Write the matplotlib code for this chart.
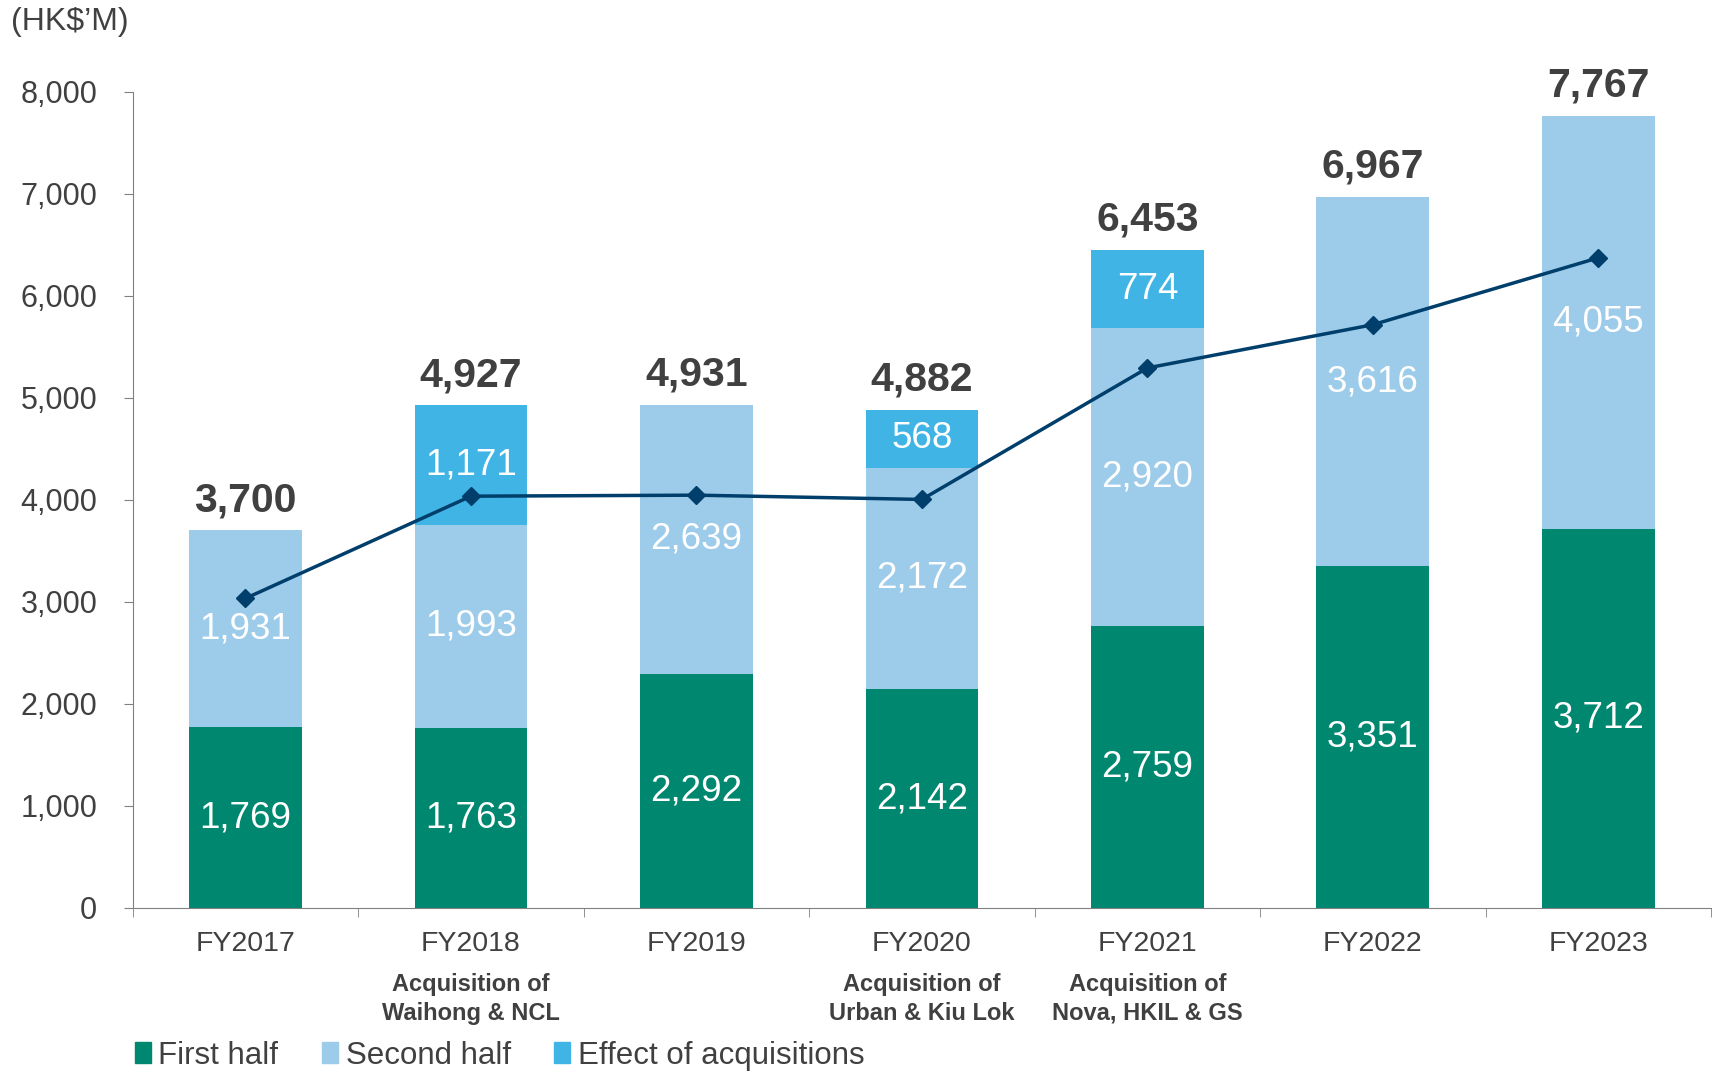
import numpy as np
import matplotlib.pyplot as plt
from matplotlib.patches import Patch

plt.rcParams['font.family'] = ['Liberation Sans', 'DejaVu Sans']

# DATOS
anios = ["FY2017", "FY2018", "FY2019", "FY2020", "FY2021", "FY2022", "FY2023"]
primera = [1769, 1763, 2292, 2142, 2759, 3351, 3712]
segunda = [1931, 1993, 2639, 2172, 2920, 3616, 4055]
adquis = [0, 1171, 0, 568, 774, 0, 0]
totales = [3700, 4927, 4931, 4882, 6453, 6967, 7767]
linea = [3033, 4035, 4045, 4003, 5292, 5716, 6372]
notas = ["", "Acquisition of\nWaihong & NCL", "", "Acquisition of\nUrban & Kiu Lok",
         "Acquisition of\nNova, HKIL & GS", "", ""]

c_primera = "#00876F"
c_segunda = "#9DCBEA"
c_adquis = "#41B4E6"
c_linea = "#003F6B"
gris = "#404040"

x = np.arange(len(anios))
ancho = 0.5

fig = plt.figure(figsize=(17.19, 10.73), dpi=100)
ax = fig.add_axes([0.0772, 0.1540, 0.9182, 0.7605])

b1 = ax.bar(x, primera, ancho, color=c_primera)
b2 = ax.bar(x, segunda, ancho, bottom=primera, color=c_segunda)
base3 = np.array(primera) + np.array(segunda)
b3 = ax.bar(x, adquis, ancho, bottom=base3, color=c_adquis)

ax.plot(x, linea, color=c_linea, lw=2.5, marker='D', markersize=9, zorder=5)

# etiquetas dentro de las barras
for i in range(len(x)):
    ax.text(x[i], primera[i] / 2, f"{primera[i]:,}", ha='center', va='center',
            color='white', fontsize=26.5)
    ax.text(x[i], primera[i] + segunda[i] / 2, f"{segunda[i]:,}", ha='center', va='center',
            color='white', fontsize=26.5)
    if adquis[i] > 0:
        ax.text(x[i], base3[i] + adquis[i] / 2, f"{adquis[i]:,}", ha='center', va='center',
                color='white', fontsize=26.5)
    ax.annotate(f"{totales[i]:,}", (x[i], totales[i]), xytext=(0, 8), textcoords='offset points',
                ha='center', va='bottom', fontsize=29.5, fontweight='bold', color=gris)
    if notas[i]:
        ax.text(x[i], -0.112, notas[i], transform=ax.get_xaxis_transform(), ha='center',
                va='center', fontsize=17, fontweight='bold', color=gris, linespacing=1.3)

ax.set_xlim(-0.5, 6.5)
ax.set_ylim(0, 8000)
ax.set_yticks(np.arange(0, 8001, 1000))
ax.set_yticklabels([f"{v:,}" for v in range(0, 8001, 1000)])
ax.set_xticks(x)
ax.set_xticklabels(anios)
ax.set_xticks(np.arange(-0.5, 7, 1), minor=True)
ax.tick_params(axis='x', which='major', length=0, pad=17, labelsize=20.5, colors=gris)
ax.tick_params(axis='x', which='minor', length=6.5, color='#808080')
ax.tick_params(axis='y', length=6.5, color='#808080', labelsize=22, labelcolor=gris, pad=19)

for lado in ['top', 'right']:
    ax.spines[lado].set_visible(False)
ax.spines['left'].set_color('#808080')
ax.spines['bottom'].set_color('#808080')

fig.text(0.0065, 0.9795, "(HK$\u2019M)", fontsize=23, color=gris, va='center')

handles = [Patch(color=c_primera), Patch(color=c_segunda), Patch(color=c_adquis)]
fig.legend(handles, ["First half", "Second half", "Effect of acquisitions"], ncol=3,
           loc='center left', bbox_to_anchor=(0.0785, 0.016), frameon=False, fontsize=22.5,
           handlelength=0.5, handleheight=0.65, handletextpad=0.25, columnspacing=1.4,
           labelcolor=gris, borderaxespad=0, borderpad=0)

plt.savefig("out.png", dpi=100)
